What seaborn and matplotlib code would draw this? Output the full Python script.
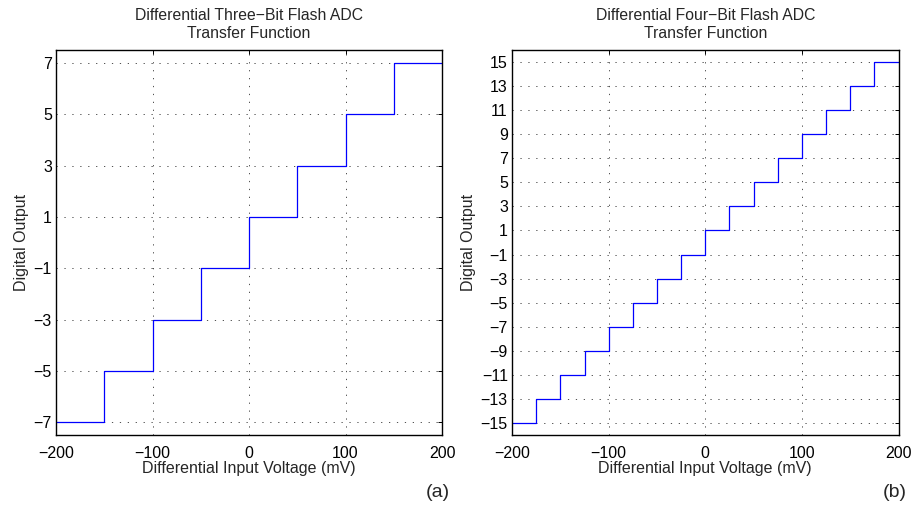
import matplotlib
matplotlib.use("Agg")
import matplotlib.pyplot as plt
import seaborn as sns
import pandas as pd

# Data
x3 = [-200, -150, -100, -50, 0, 50, 100, 150, 200]
y3 = [-7, -5, -3, -1, 1, 3, 5, 7, 7]
x4 = [-200, -175, -150, -125, -100, -75, -50, -25, 0, 25, 50, 75, 100, 125, 150, 175, 200]
y4 = [-15, -13, -11, -9, -7, -5, -3, -1, 1, 3, 5, 7, 9, 11, 13, 15, 15]
yticks3 = [-7, -5, -3, -1, 1, 3, 5, 7]
yticks4 = [-15, -13, -11, -9, -7, -5, -3, -1, 1, 3, 5, 7, 9, 11, 13, 15]
xticks = [-200, -100, 0, 100, 200]
titles = ["Differential Three\u2212Bit Flash ADC\nTransfer Function",
          "Differential Four\u2212Bit Flash ADC\nTransfer Function"]
panel_labels = ["(a)", "(b)"]

sns.set_style("white")
plt.rcParams['font.family'] = ['Liberation Sans', 'DejaVu Sans']
plt.rcParams['axes.unicode_minus'] = True

fig = plt.figure(figsize=(9.15, 5.11), dpi=100)
ax1 = fig.add_axes([0.0612, 0.1487, 0.4219, 0.7534])
ax2 = fig.add_axes([0.5596, 0.1487, 0.4224, 0.7534])

specs = [(ax1, x3, y3, yticks3, (-7.5, 7.5)), (ax2, x4, y4, yticks4, (-16, 16))]
for i, (ax, xs, ys, yt, yl) in enumerate(specs):
    df = pd.DataFrame({"x": xs, "y": ys})
    sns.lineplot(data=df, x="x", y="y", ax=ax, color=(0, 0, 1), linewidth=0.9,
                 drawstyle="steps-post", sort=False)
    ax.set_xlim(-200, 200)
    ax.set_ylim(*yl)
    ax.set_xticks(xticks)
    ax.set_yticks(yt)
    ax.set_xticklabels([str(v).replace("-", "\u2212") for v in xticks])
    ax.set_yticklabels([str(v).replace("-", "\u2212") for v in yt])
    ax.grid(True, color="#333333", linestyle=(0, (1.5, 8)), linewidth=0.6)
    ax.tick_params(direction="in", length=3, width=0.7, top=True, right=True,
                   labelsize=11.5, colors="black")
    ax.tick_params(axis="x", pad=8)
    ax.tick_params(axis="y", pad=3)
    for s in ax.spines.values():
        s.set_visible(True)
        s.set_color("black")
        s.set_linewidth(1.0)
    ax.set_xlabel("Differential Input Voltage (mV)", fontsize=11.5, labelpad=0)
    ax.set_ylabel("Digital Output", fontsize=11.5, labelpad=3.5)
    ax.set_title(titles[i], fontsize=11.3, pad=9, linespacing=1.25)
    ax.text(1.02, -0.15, panel_labels[i], transform=ax.transAxes, ha="right",
            va="center", fontsize=14)

fig.savefig("out.png", dpi=100)
